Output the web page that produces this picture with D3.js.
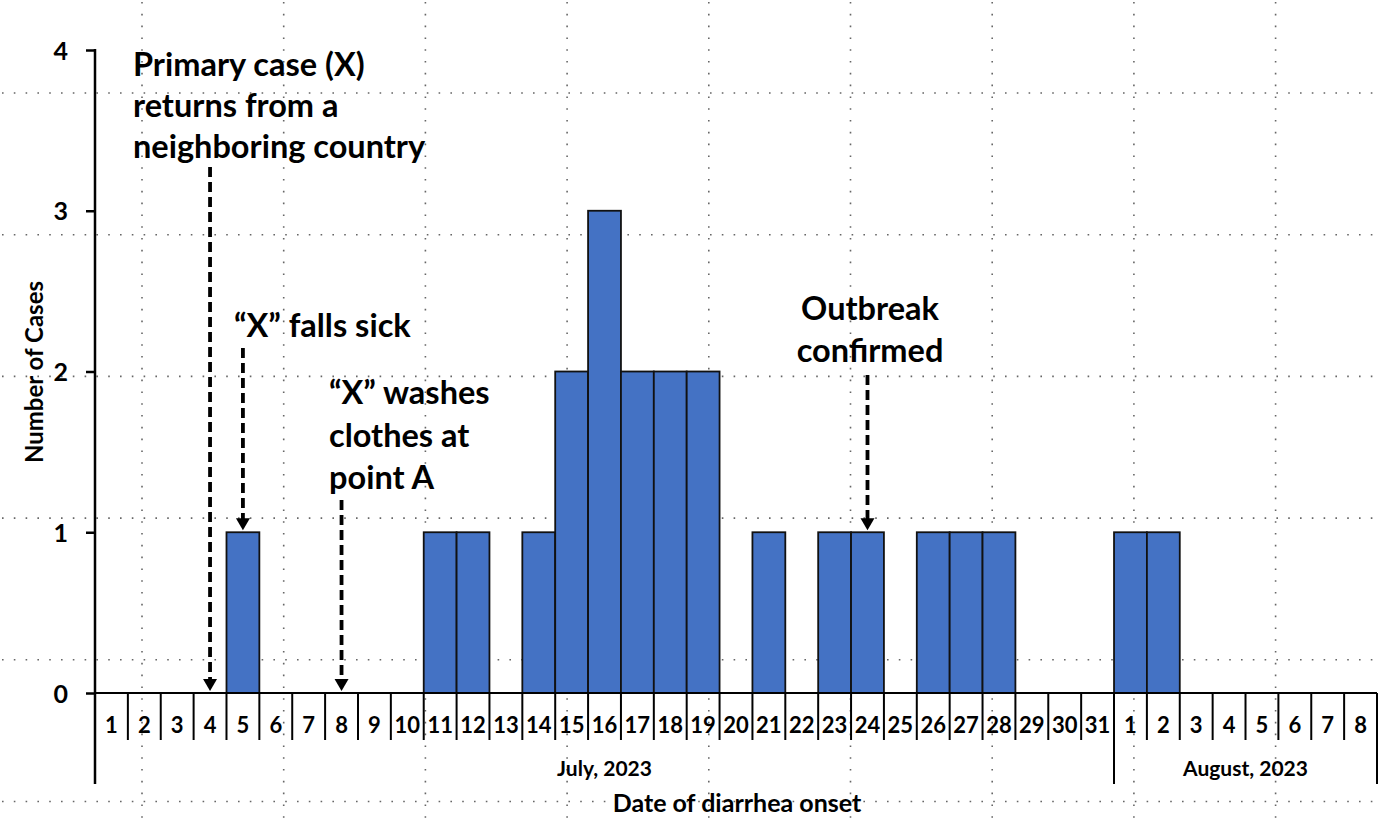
<!DOCTYPE html>
<html>
<head>
<meta charset="utf-8">
<script src="https://cdn.jsdelivr.net/npm/d3@7/dist/d3.min.js"></script>
<style>
  html, body { margin: 0; padding: 0; background: #fff; }
  svg text { font-family: Lato, "Open Sans", sans-serif; font-weight: bold; fill: #000; }
</style>
</head>
<body>
<svg id="chart" width="1382" height="818"></svg>
<script>
var julyDays = ["1","2","3","4","5","6","7","8","9","10","11","12","13","14","15","16",
                "17","18","19","20","21","22","23","24","25","26","27","28","29","30","31"];
var augustDays = ["1","2","3","4","5","6","7","8"];
var monthLabels = ["July, 2023", "August, 2023"];
var julyCases = [0,0,0,0,1,0,0,0,0,0,1,1,0,1,2,3,2,2,2,0,1,0,1,1,0,1,1,1,0,0,0];
var augustCases = [1,1,0,0,0,0,0,0];
var yTicks = [0, 1, 2, 3, 4];
var notes = [
    {key: "Jul-4",  lines: ["Primary case (X)", "returns from a", "neighboring country"]},
    {key: "Jul-5",  lines: ["\u201cX\u201d falls sick"]},
    {key: "Jul-8",  lines: ["\u201cX\u201d washes", "clothes at", "point A"]},
    {key: "Jul-24", lines: ["Outbreak", "confirmed"]}
];

var days = julyDays.map(function (d, i) {
    return {key: "Jul-" + d, label: d, month: 0, cases: julyCases[i]};
}).concat(augustDays.map(function (d, i) {
    return {key: "Aug-" + d, label: d, month: 1, cases: augustCases[i]};
}));

var LEFT = 95, RIGHT = 1377, TOP = 50, BASE = 693;
var svg = d3.select("#chart");

// background dotted grid
var gridStep = 141.7;
var grid = svg.append("g").attr("stroke", "#666").attr("stroke-width", 1.6)
    .attr("stroke-dasharray", "1.6 10.2");
grid.selectAll(".gv").data(d3.range(142, 1382, gridStep)).enter().append("line")
    .attr("x1", function (d) { return d; }).attr("x2", function (d) { return d; })
    .attr("y1", 2).attr("y2", 818);
grid.selectAll(".gh").data(d3.range(93, 818, gridStep)).enter().append("line")
    .attr("y1", function (d) { return d; }).attr("y2", function (d) { return d; })
    .attr("x1", 2).attr("x2", 1382);

var x = d3.scaleBand().domain(days.map(function (d) { return d.key; }))
    .range([LEFT, RIGHT]).padding(0);
var y = d3.scaleLinear().domain([0, 4]).range([BASE, TOP]);

// bars
svg.append("g").selectAll("rect").data(days.filter(function (d) { return d.cases > 0; }))
    .enter().append("rect")
    .attr("x", function (d) { return x(d.key); })
    .attr("y", function (d) { return y(d.cases); })
    .attr("width", x.bandwidth())
    .attr("height", function (d) { return y(0) - y(d.cases); })
    .attr("fill", "#4472C4")
    .attr("stroke", "#111")
    .attr("stroke-width", 1.8);

// y axis
var yAxis = svg.append("g").attr("transform", "translate(" + LEFT + ",0)")
    .call(d3.axisLeft(y).tickValues(yTicks).tickFormat(d3.format("d")).tickSize(9).tickPadding(18));
yAxis.select(".domain").remove();
yAxis.selectAll(".tick line").attr("stroke", "#000").attr("stroke-width", 2.5);
yAxis.selectAll(".tick text").style("font-size", "25px").attr("dy", "0.36em");
svg.append("line").attr("x1", LEFT).attr("x2", LEFT).attr("y1", TOP - 1).attr("y2", 784)
    .attr("stroke", "#000").attr("stroke-width", 2.5);

// x axis: baseline, day cells, month groups
svg.append("line").attr("x1", LEFT).attr("x2", RIGHT).attr("y1", BASE).attr("y2", BASE)
    .attr("stroke", "#000").attr("stroke-width", 2.2);
var edges = days.map(function (d) { return x(d.key); }).concat([RIGHT]);
svg.append("g").selectAll("line").data(edges.slice(1)).enter().append("line")
    .attr("x1", function (d) { return d; }).attr("x2", function (d) { return d; })
    .attr("y1", BASE).attr("y2", 740)
    .attr("stroke", "#000").attr("stroke-width", 2);
svg.append("g").selectAll("text").data(days).enter().append("text")
    .attr("x", function (d) { return x(d.key) + x.bandwidth() / 2; })
    .attr("y", 733)
    .attr("text-anchor", "middle")
    .style("font-size", "22px")
    .text(function (d) { return d.label; });

var monthSpans = monthLabels.map(function (m, i) {
    var inMonth = days.filter(function (d) { return d.month === i; });
    var first = x(inMonth[0].key);
    var last = x(inMonth[inMonth.length - 1].key) + x.bandwidth();
    return {label: m, x0: first, x1: last};
});
svg.append("g").selectAll("line").data([monthSpans[1].x0, monthSpans[1].x1]).enter().append("line")
    .attr("x1", function (d) { return d; }).attr("x2", function (d) { return d; })
    .attr("y1", BASE).attr("y2", 784)
    .attr("stroke", "#000").attr("stroke-width", 2);
svg.append("g").selectAll("text").data(monthSpans).enter().append("text")
    .attr("x", function (d) { return (d.x0 + d.x1) / 2; })
    .attr("y", 776)
    .attr("text-anchor", "middle")
    .style("font-size", "21px")
    .text(function (d) { return d.label; });

// axis titles
svg.append("text").attr("x", 737).attr("y", 812).attr("text-anchor", "middle")
    .style("font-size", "25px").text("Date of diarrhea onset");
svg.append("text").attr("transform", "translate(43,372) rotate(-90)").attr("text-anchor", "middle")
    .style("font-size", "24px").text("Number of Cases");

// annotations: text block position and arrow start, per note
var noteLayout = [
    {tx: 133, ty: 76, anchor: "start", lh: 41, from: 167},
    {tx: 234, ty: 337, anchor: "start", lh: 41, from: 348},
    {tx: 329, ty: 404, anchor: "start", lh: 42.5, from: 500},
    {tx: 870, ty: 320, anchor: "middle", lh: 42, from: 375}
];
var byKey = {};
days.forEach(function (d) { byKey[d.key] = d; });

notes.forEach(function (n, i) {
    var L = noteLayout[i];
    var g = svg.append("g");
    g.append("text").attr("x", L.tx).attr("y", L.ty).attr("text-anchor", L.anchor)
        .style("font-size", "32.5px")
        .selectAll("tspan").data(n.lines).enter().append("tspan")
        .attr("x", L.tx).attr("dy", function (d, j) { return j === 0 ? 0 : L.lh; })
        .text(function (d) { return d; });
    var cx = x(n.key) + x.bandwidth() / 2;
    var tip = y(byKey[n.key].cases) - 2;
    g.append("line").attr("x1", cx).attr("x2", cx).attr("y1", L.from).attr("y2", tip - 10)
        .attr("stroke", "#000").attr("stroke-width", 3.8).attr("stroke-dasharray", "10 5");
    g.append("path")
        .attr("d", "M" + (cx - 7) + "," + (tip - 12) + "L" + (cx + 7) + "," + (tip - 12) + "L" + cx + "," + tip + "Z")
        .attr("fill", "#000");
});
</script>
</body>
</html>
